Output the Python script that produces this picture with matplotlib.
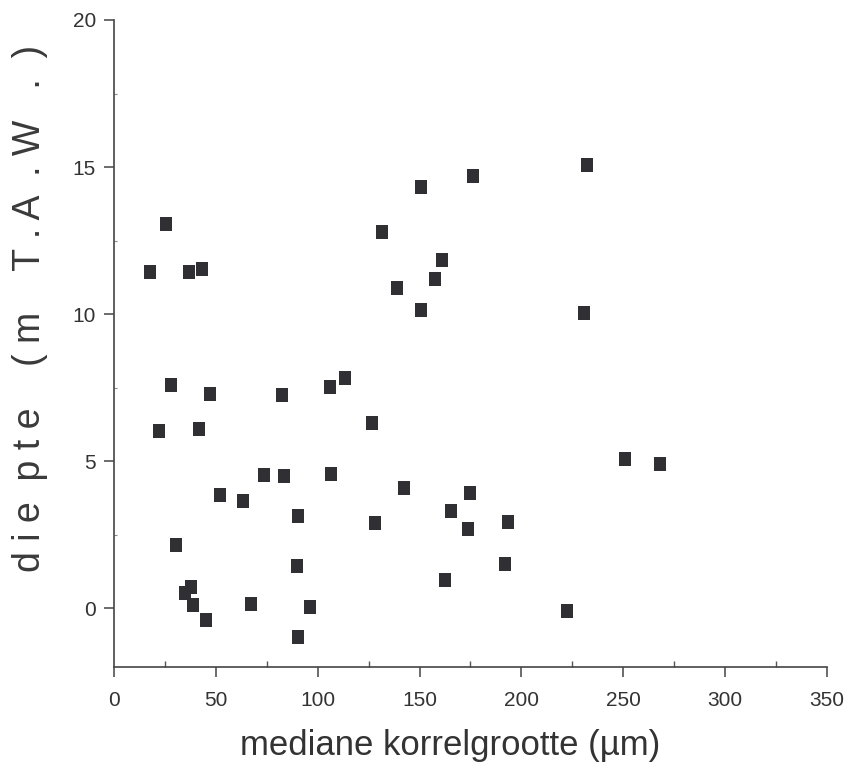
import matplotlib
matplotlib.use("Agg")
import matplotlib.pyplot as plt
from matplotlib.path import Path
from matplotlib.ticker import MultipleLocator

# median grain size (µm) and depth (m T.A.W.)
grain_size = [17.6, 25.5, 36.8, 43.1, 27.9, 47.3, 82.5, 105.9, 113.2, 22.1,
              41.7, 73.5, 83.3, 106.4, 52.0, 63.2, 90.2, 30.4, 89.7, 34.8,
              37.7, 38.7, 45.1, 67.2, 96.1, 90.2, 150.5, 176.0, 232.0, 131.4,
              160.8, 157.8, 138.7, 150.5, 230.9, 126.5, 142.2, 175.0, 165.2, 128.0,
              174.0, 193.6, 191.7, 162.7, 222.5, 251.0, 268.0]
depth = [11.43, 13.05, 11.43, 11.53, 7.58, 7.27, 7.24, 7.52, 7.82, 6.02,
         6.09, 4.52, 4.49, 4.56, 3.84, 3.64, 3.13, 2.14, 1.43, 0.51,
         0.71, 0.10, -0.41, 0.14, 0.03, -0.99, 14.32, 14.69, 15.07, 12.79,
         11.84, 11.19, 10.88, 10.14, 10.03, 6.29, 4.08, 3.91, 3.30, 2.89,
         2.69, 2.92, 1.50, 0.95, -0.10, 5.07, 4.90]

x_ticks = [0, 50, 100, 150, 200, 250, 300, 350]
y_ticks = [0, 5, 10, 15, 20]

plt.rcParams['font.family'] = ['Liberation Sans', 'DejaVu Sans']

fig = plt.figure(figsize=(8.48, 7.66), dpi=100)
ax = fig.add_axes([114 / 848, 1 - 667 / 766, 713 / 848, 647 / 766])

# slightly tall rectangular marker
rect = Path([(-0.42, -0.5), (0.42, -0.5), (0.42, 0.5), (-0.42, 0.5), (-0.42, -0.5)],
            [Path.MOVETO, Path.LINETO, Path.LINETO, Path.LINETO, Path.CLOSEPOLY])
ax.plot(grain_size, depth, linestyle='none', marker=rect, markersize=10.3,
        color='#303034', markeredgewidth=0)

ax.set_xlim(0, 350)
ax.set_ylim(-2, 20)
ax.set_xticks(x_ticks)
ax.set_yticks(y_ticks)
ax.xaxis.set_minor_locator(MultipleLocator(25))
ax.yaxis.set_minor_locator(MultipleLocator(2.5))

for side in ('top', 'right'):
    ax.spines[side].set_visible(False)
for side in ('left', 'bottom'):
    ax.spines[side].set_color('#444444')
    ax.spines[side].set_linewidth(1.2)

ax.tick_params(axis='both', which='major', direction='out', length=7, width=1.1,
               color='#444444', labelsize=15, labelcolor='#333333')
ax.tick_params(axis='x', which='major', pad=10)
ax.tick_params(axis='y', which='major', pad=6)
ax.tick_params(axis='x', which='minor', direction='in', length=4, width=1.0,
               color='#555555')
ax.tick_params(axis='y', which='minor', direction='in', length=2, width=0.8,
               color='#888888')

fig.text(450 / 848, 1 - 745 / 766, 'mediane korrelgrootte (µm)', ha='center',
         va='center', fontsize=25, color='#333333')
fig.text(30 / 848, 1 - 308 / 766, 'd i e  p t e    ( m    T . A  . W   .  )',
         ha='center', va='center', rotation=90, fontsize=27, color='#3a3a3a')

fig.savefig('out.png', dpi=100, facecolor='white')
